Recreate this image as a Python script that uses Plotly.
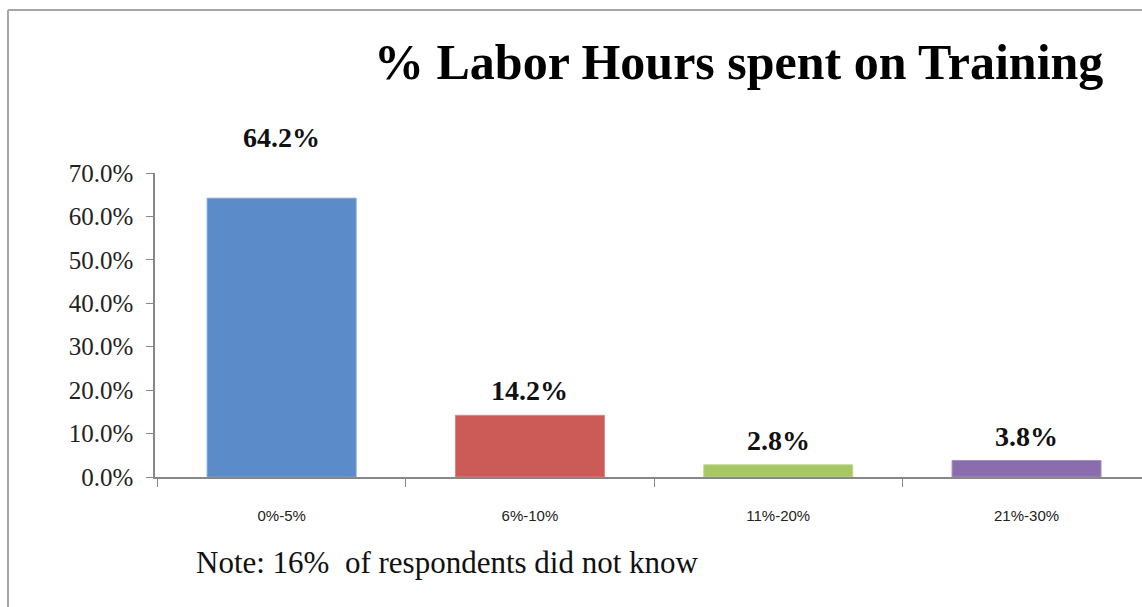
import plotly.graph_objects as go

categories = ["0%-5%", "6%-10%", "11%-20%", "21%-30%"]
values = [64.2, 14.2, 2.8, 3.8]
value_labels = ["64.2%", "14.2%", "2.8%", "3.8%"]
label_shifts = [43, 7, 7, 7]
colors = ["#5B8BC8", "#CC5B57", "#A6C764", "#8B6DAD"]
edge_colors = ["#7FA6D6", "#DA8582", "#BDD68F", "#A690C2"]
y_ticks = [0, 10, 20, 30, 40, 50, 60, 70]
y_tick_text = ["%.1f%%" % v for v in y_ticks]
title_text = "% Labor Hours spent on Training"
note_text = "Note: 16%  of respondents did not know"

W, H = 1142, 607
ml, mr, mt, mb = 155, 0, 173, 130

fig = go.Figure()
fig.add_trace(go.Bar(
    x=categories, y=values,
    marker=dict(color=colors, line=dict(color=edge_colors, width=1)),
    hoverinfo="skip", showlegend=False,
))

for c, v, t, s in zip(categories, values, value_labels, label_shifts):
    fig.add_annotation(x=c, y=v, text="<b>%s</b>" % t, showarrow=False,
                       yanchor="bottom", yshift=s,
                       font=dict(family="Liberation Serif", size=28, color="#111"))

pw = W - ml - mr
ph = H - mt - mb
def px(xp):
    return (xp - ml) / pw
def py(yp):
    return (H - mb - yp) / ph

fig.add_annotation(xref="paper", yref="paper", x=px(738), y=py(62), text="<b>%s</b>" % title_text,
                   showarrow=False, xanchor="center", yanchor="middle",
                   font=dict(family="Liberation Serif", size=50, color="#000"))
fig.add_annotation(xref="paper", yref="paper", x=px(194), y=py(562), text=note_text,
                   showarrow=False, xanchor="left", yanchor="middle",
                   font=dict(family="Liberation Serif", size=31, color="#111"))

# outer border (left and top)
fig.add_shape(type="line", xref="paper", yref="paper", x0=px(8), x1=px(8), y0=py(10), y1=py(620),
              line=dict(color="#A6A6A6", width=2))
fig.add_shape(type="line", xref="paper", yref="paper", x0=px(8), x1=px(1160), y0=py(10), y1=py(10),
              line=dict(color="#A6A6A6", width=2))

fig.update_layout(
    width=W, height=H,
    margin=dict(l=ml, r=mr, t=mt, b=mb),
    paper_bgcolor="white", plot_bgcolor="white",
    bargap=0.4,
    xaxis=dict(range=[-0.51, 3.465], showline=True, linecolor="#888", linewidth=1.5,
               ticks="outside", ticklen=8, tickcolor="#888", tickson="boundaries",
               showgrid=False, zeroline=False,
               tickfont=dict(family="Liberation Sans Narrow, Liberation Sans", size=15, color="#222"),
               ticklabelstandoff=24),
    yaxis=dict(range=[0, 70], tickmode="array", tickvals=y_ticks, ticktext=y_tick_text,
               showline=True, linecolor="#888", linewidth=1.5, ticks="outside", ticklen=7,
               tickcolor="#888", showgrid=False, zeroline=False,
               tickfont=dict(family="Liberation Serif", size=25, color="#222"),
               ticklabelstandoff=8),
)

fig.write_html("out.html")
